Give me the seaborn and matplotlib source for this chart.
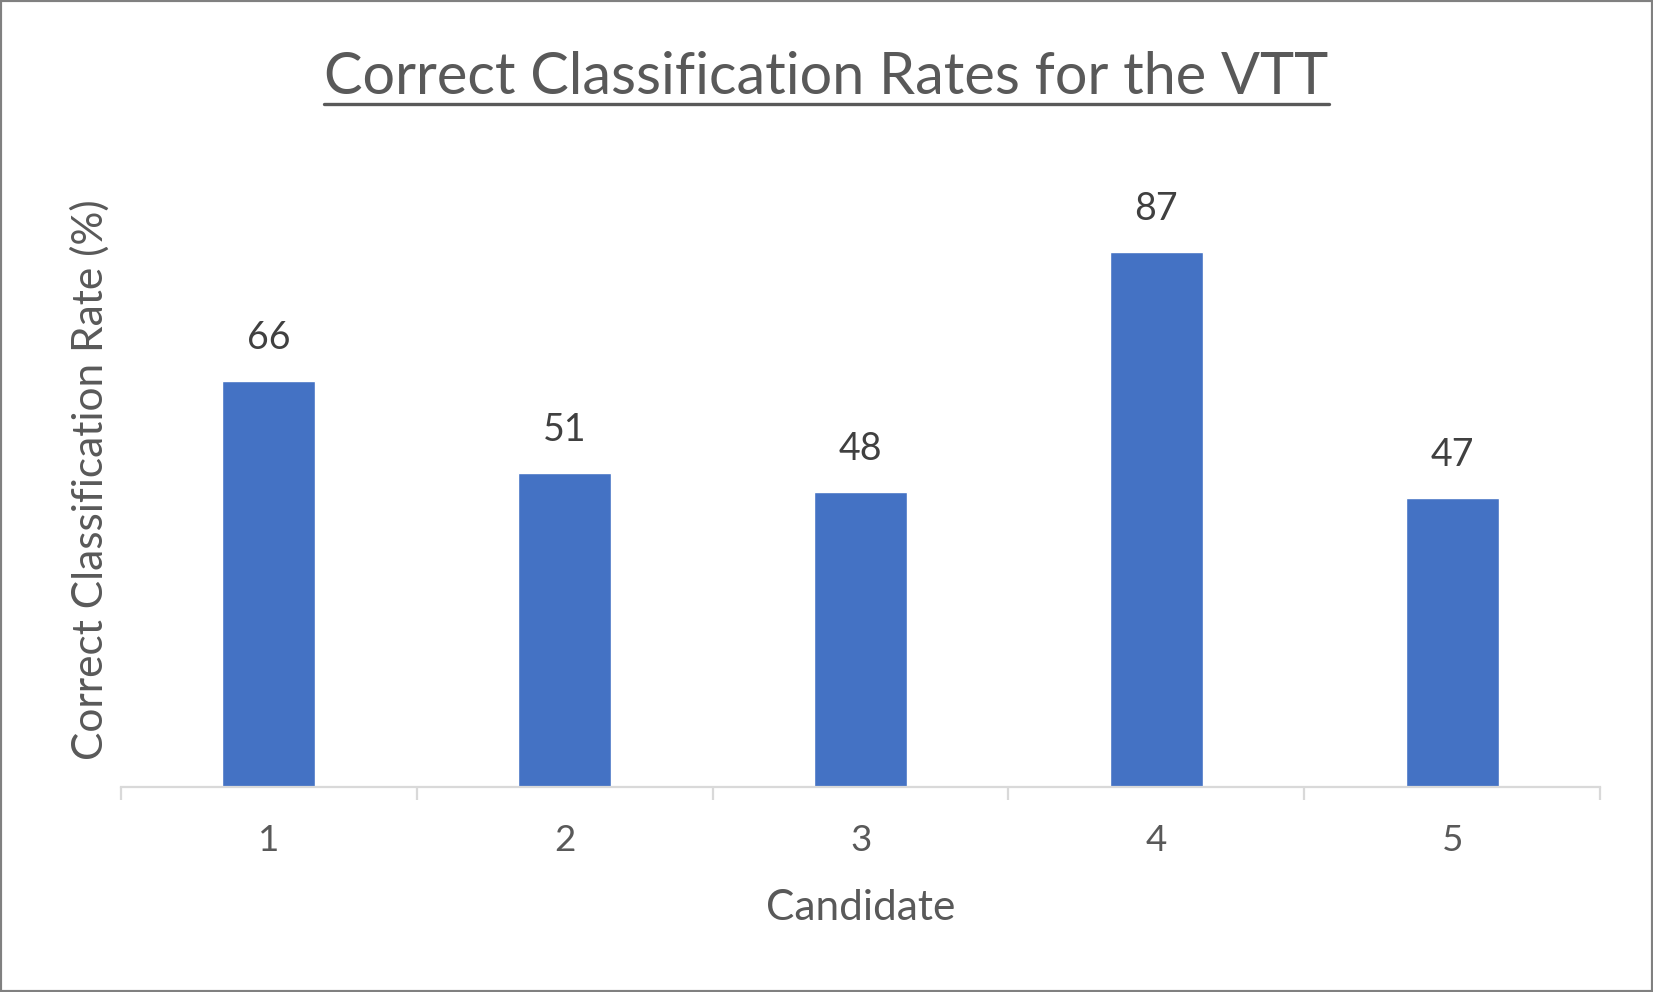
import matplotlib
matplotlib.use('Agg')
import matplotlib.pyplot as plt
from matplotlib.patches import Rectangle
from matplotlib.lines import Line2D
import seaborn as sns
import pandas as pd

# data
candidates = ['1', '2', '3', '4', '5']
rates = [66, 51, 48, 87, 47]

bar_color = '#4472C4'
text_gray = '#595959'
label_gray = '#404040'
axis_gray = '#D9D9D9'

sns.set_style('white')
plt.rcParams['font.family'] = ['Lato', 'DejaVu Sans']

df = pd.DataFrame({'Candidate': candidates, 'Rate': rates})

fig = plt.figure(figsize=(16.53, 9.92), dpi=100)
ax = fig.add_axes([0.0732, 0.2067, 0.8948, 0.6199])

sns.barplot(data=df, x='Candidate', y='Rate', color=bar_color, width=0.314,
            saturation=1, ax=ax)

ax.set_ylim(0, 100)
ax.set_xlim(-0.5, len(candidates) - 0.5)

# data labels
ax.bar_label(ax.containers[0], fmt='%d', padding=18, fontsize=27, color=label_gray)

# axes styling
for s in ['top', 'right', 'left']:
    ax.spines[s].set_visible(False)
ax.spines['bottom'].set_color(axis_gray)
ax.spines['bottom'].set_linewidth(1.6)
ax.set_yticks([])

ax.set_xticks(range(len(candidates)))
ax.set_xticklabels(candidates)
ax.set_xticks([i - 0.5 for i in range(len(candidates) + 1)], minor=True)
ax.tick_params(axis='x', which='major', length=0, pad=27, labelsize=26.5, labelcolor=text_gray)
ax.tick_params(axis='x', which='minor', length=9.5, width=1.6, color=axis_gray, direction='out', bottom=True)

ax.set_xlabel('Candidate', fontsize=30.5, color=text_gray, labelpad=23)
ax.set_ylabel('Correct Classification Rate (%)', fontsize=30.5, color=text_gray)
ax.yaxis.set_label_coords(-0.021, 0.5)
ax.yaxis.label.set_va('center')

title = fig.text(0.5, 0.905, 'Correct Classification Rates for the VTT',
                 ha='center', va='baseline', fontsize=41.5, color=text_gray)

# underline the title
fig.canvas.draw()
bb = title.get_window_extent().transformed(fig.transFigure.inverted())
fig.add_artist(Line2D([bb.x0, bb.x1], [0.895, 0.895], transform=fig.transFigure,
                      color=text_gray, linewidth=2.4))

# chart border
fig.add_artist(Rectangle((0, 0), 1, 1, transform=fig.transFigure, fill=False,
                         edgecolor='#808080', linewidth=3))

fig.savefig('out.png', dpi=100)
